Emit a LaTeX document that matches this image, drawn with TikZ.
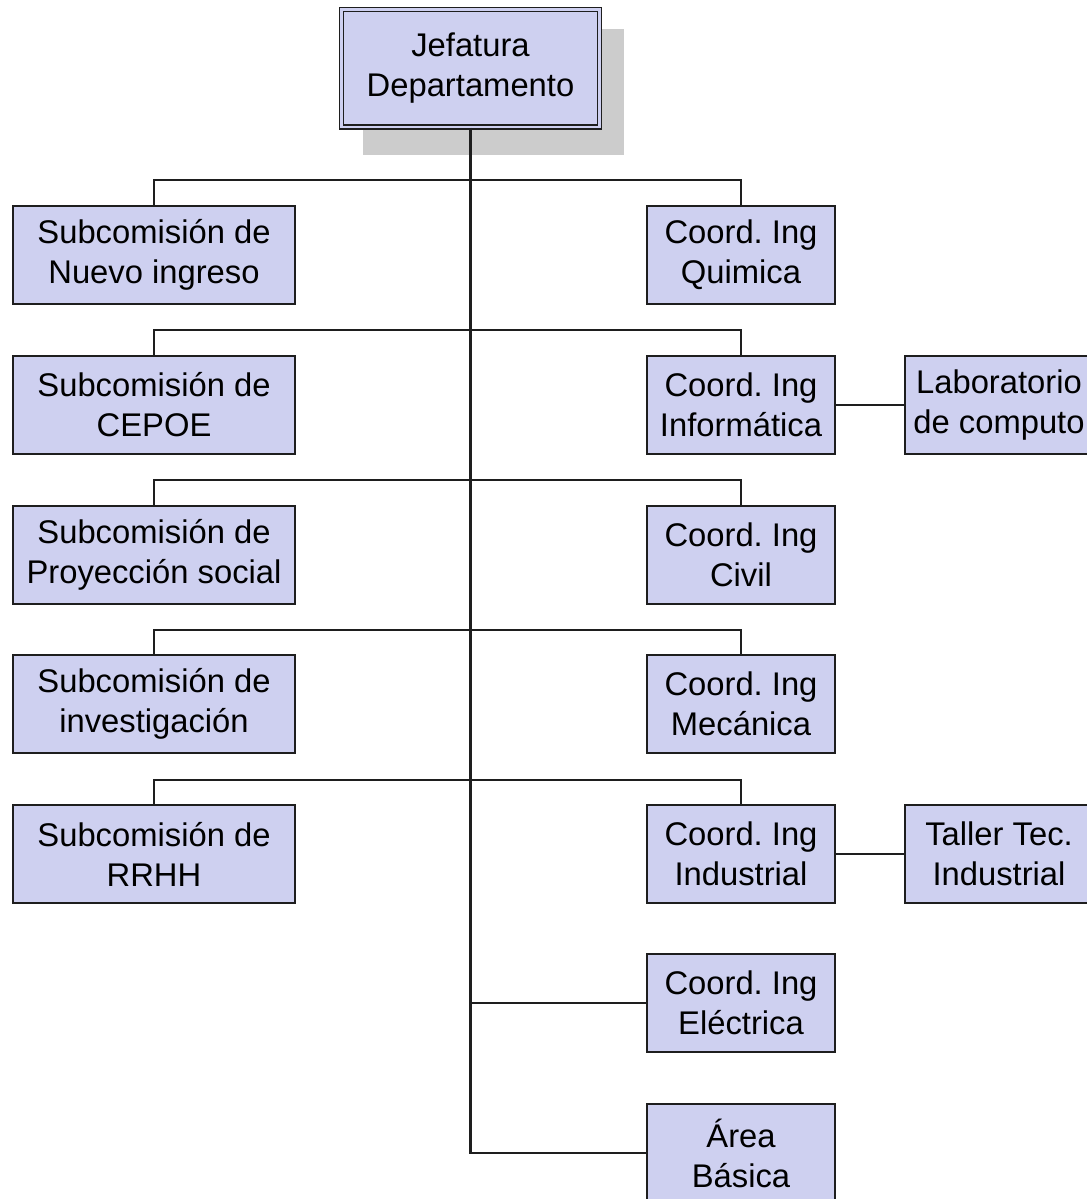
\documentclass[tikz,border=0pt]{standalone}
\usepackage{fontspec}
\setmainfont{Liberation Sans}
\frenchspacing
\definecolor{boxfill}{RGB}{206,208,240}
\definecolor{shadowgray}{RGB}{204,204,204}
\definecolor{linegray}{RGB}{30,30,30}
\begin{document}
\begin{tikzpicture}[x=0.025cm,y=-0.025cm,
  unit/.style={draw=linegray, line width=1.2pt, fill=boxfill, align=center,
    inner sep=0pt, font=\fontsize{23.3}{28.45}\selectfont},
  subbox/.style={unit, minimum width=7.05cm, minimum height=2.45cm},
  coordbox/.style={unit, minimum width=4.7cm, minimum height=2.45cm},
  headbox/.style={unit, double=boxfill, line width=1pt, double distance=1.7pt,
    minimum width=6.45cm, minimum height=2.94cm},
  link/.style={draw=linegray, line width=1.5pt}]
\useasboundingbox (0,0) rectangle (1087,1199);
\begin{scope}
\clip (0,7.5) rectangle (1087,1199);
% drop shadow behind the head box
\fill[shadowgray] (363,29) rectangle (624,155);
\node[headbox] (head) at (470.5,68.25) {Jefatura\\Departamento};

% committees (left column)
\node[subbox] (s1) at (154,255) {Subcomisión de\\Nuevo ingreso};
\node[subbox] (s2) at (154,405) {Subcomisión de\\CEPOE};
\node[subbox] (s3) at (154,555) {Subcomisión de\\Proyección social};
\node[subbox] (s4) at (154,704) {Subcomisión de\\investigación};
\node[subbox] (s5) at (154,854) {Subcomisión de\\RRHH};

% coordinations (right column)
\node[coordbox] (c1) at (741,255) {Coord. Ing\\Quimica};
\node[coordbox] (c2) at (741,405) {Coord. Ing\\Informática};
\node[coordbox] (c3) at (741,555) {Coord. Ing\\Civil};
\node[coordbox] (c4) at (741,704) {Coord. Ing\\Mecánica};
\node[coordbox] (c5) at (741,854) {Coord. Ing\\Industrial};
\node[coordbox] (c6) at (741,1003) {Coord. Ing\\Eléctrica};
\node[coordbox] (c7) at (741,1153) {Área\\Básica};

% units attached to coordinations
\node[coordbox] (lab) at (999,405) {Laboratorio\\de computo};
\node[coordbox] (taller) at (999,854) {Taller Tec.\\Industrial};

% branch levels on the trunk
\coordinate (r1) at (470.5,180);
\coordinate (r2) at (470.5,330);
\coordinate (r3) at (470.5,480);
\coordinate (r4) at (470.5,630);
\coordinate (r5) at (470.5,780);

% trunk
\draw[link] (head.south) |- (c7.west);
\draw[link] (head.south |- c6.west) -- (c6.west);

% paired branches
\foreach \l/\r/\k in {s1/c1/r1, s2/c2/r2, s3/c3/r3, s4/c4/r4, s5/c5/r5}
  \draw[link] (\l.north) -- (\l.north |- \k) -- (\r.north |- \k) -- (\r.north);

% side links
\draw[link] (c2.east) -- (lab.west);
\draw[link] (c5.east) -- (taller.west);
\end{scope}
\end{tikzpicture}
\end{document}
